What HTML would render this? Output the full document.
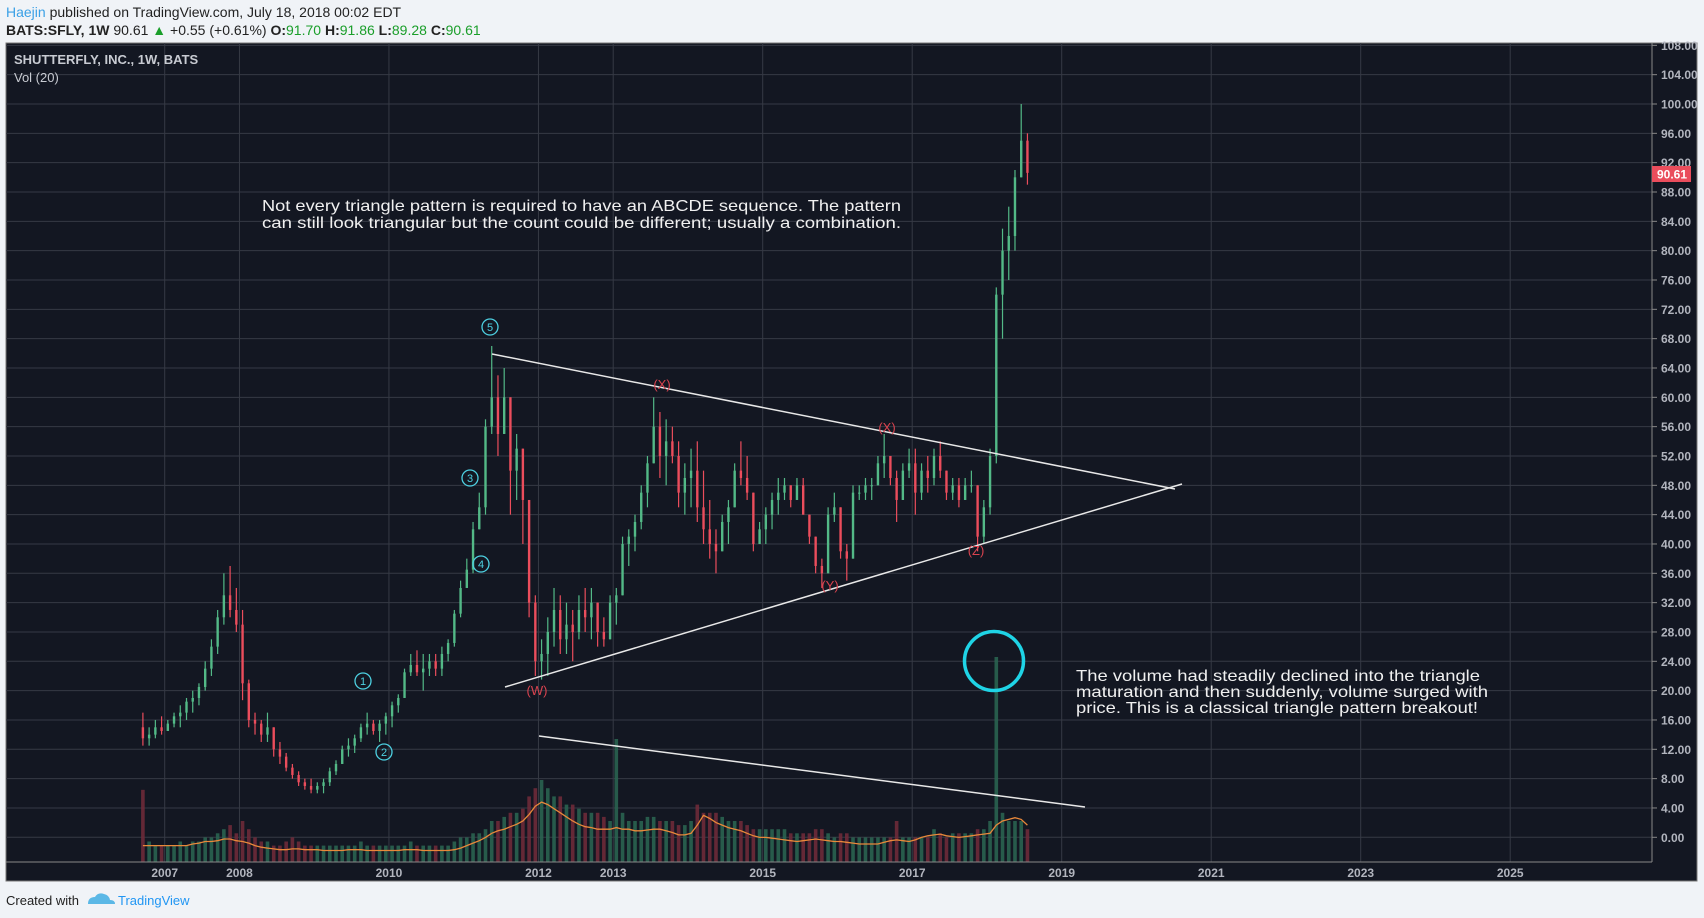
<!DOCTYPE html>
<html><head><meta charset="utf-8"><style>
body{margin:0;background:#f0f3f7;width:1704px;height:918px;overflow:hidden;font-family:"Liberation Sans",sans-serif}
svg{display:block}
</style></head><body>
<svg id="chart" width="1704" height="918" xmlns="http://www.w3.org/2000/svg">
<rect x="0" y="0" width="1704" height="918" fill="#f0f3f7"/>
<text x="6" y="17" font-size="14" fill="#222"><tspan fill="#3aa0e6">Haejin</tspan> published on TradingView.com, July 18, 2018 00:02 EDT</text>
<text x="6" y="35" font-size="14" fill="#222"><tspan font-weight="bold">BATS:SFLY, 1W</tspan> 90.61 <tspan fill="#1a9e2a">▲</tspan> +0.55 (+0.61%) <tspan font-weight="bold">O:</tspan><tspan fill="#1a9e2a">91.70</tspan> <tspan font-weight="bold">H:</tspan><tspan fill="#1a9e2a">91.86</tspan> <tspan font-weight="bold">L:</tspan><tspan fill="#1a9e2a">89.28</tspan> <tspan font-weight="bold">C:</tspan><tspan fill="#1a9e2a">90.61</tspan></text>
<rect x="6" y="43" width="1691" height="838" fill="#131722" stroke="#777" stroke-width="1"/>
<g id="grid"></g>
<g id="vol"></g>
<polyline id="ma" fill="none" stroke="#e8883a" stroke-width="1.3"/>
<g id="candles"></g>
<line x1="1652" y1="43" x2="1652" y2="862" stroke="#888"/>
<line x1="6" y1="862" x2="1652" y2="862" stroke="#888"/>
<g id="yticks"></g>
<g id="xticks"></g>
<text x="14" y="64" font-size="13" font-weight="bold" fill="#c8cbd2">SHUTTERFLY, INC., 1W, BATS</text>
<text x="14" y="82" font-size="13" fill="#c8cbd2">Vol (20)</text>
<line x1="492" y1="354" x2="1175" y2="489" stroke="#e8e8e8" stroke-width="1.5"/>
<line x1="505" y1="687" x2="1182" y2="484" stroke="#e8e8e8" stroke-width="1.5"/>
<line x1="539" y1="736" x2="1085" y2="807" stroke="#e8e8e8" stroke-width="1.5"/>
<circle cx="994" cy="661" r="29.5" fill="none" stroke="#1fd4e6" stroke-width="3.5"/>
<g font-size="11" fill="#4dd0e1" text-anchor="middle" stroke-width="1.3">
<circle cx="363" cy="681" r="8" fill="none" stroke="#4dd0e1"/><text x="363" y="685">1</text>
<circle cx="384" cy="752" r="8" fill="none" stroke="#4dd0e1"/><text x="384" y="756">2</text>
<circle cx="470" cy="478" r="8" fill="none" stroke="#4dd0e1"/><text x="470" y="482">3</text>
<circle cx="481" cy="564" r="8" fill="none" stroke="#4dd0e1"/><text x="481" y="568">4</text>
<circle cx="490" cy="327" r="8" fill="none" stroke="#4dd0e1"/><text x="490" y="331">5</text>
</g>
<g font-size="13" fill="#d9434f" text-anchor="middle">
<text x="537" y="695">(W)</text>
<text x="662" y="389">(X)</text>
<text x="887" y="432">(X)</text>
<text x="830" y="590">(Y)</text>
<text x="976" y="555">(Z)</text>
</g>
<g font-size="16" fill="#f0f0f0">
<text x="262" y="211" textLength="639" lengthAdjust="spacingAndGlyphs">Not every triangle pattern is required to have an ABCDE sequence. The pattern</text>
<text x="262" y="228" textLength="639" lengthAdjust="spacingAndGlyphs">can still look triangular but the count could be different; usually a combination.</text>
</g>
<g font-size="16" fill="#f0f0f0">
<text x="1076" y="681" textLength="404" lengthAdjust="spacingAndGlyphs">The volume had steadily declined into the triangle</text>
<text x="1076" y="697" textLength="412" lengthAdjust="spacingAndGlyphs">maturation and then suddenly, volume surged with</text>
<text x="1076" y="713" textLength="402" lengthAdjust="spacingAndGlyphs">price. This is a classical triangle pattern breakout!</text>
</g>
<rect x="1652" y="166" width="39" height="16" fill="#ea4d5c"/>
<text x="1657" y="178.5" font-size="12" font-weight="bold" fill="#fff">90.61</text>
<text x="6" y="905" font-size="13" fill="#222">Created with</text>
<g>
<path d="M88 904 q0-7 7-7 q3-5 9-3 q5 1 6 6 q5 0 5 4 z" fill="#5bb8e6"/>
</g>
<text x="118" y="905" font-size="13" fill="#2196f3">TradingView</text>
</svg>
<script>
const opens=[15,13.5,14,15,14.5,15.5,16.5,17,18.5,19,20.5,23,26,30,33,31,29,21,16,15.5,14,15,12,11,9.5,8.5,7.5,7,6.5,7,7.5,9,10,12,12.5,13.5,15,15.5,14.5,15.5,16.5,18,19,22.5,23.5,22.5,23,24,23,25,26.5,30.5,34,36.5,42,45,56,60,55,60,50,53,46,32,24,25,28,31,27,29,28,31,30,32,28,27,32,33,40,41,43,47,51,56,52,54,52,47,49,50,45,42,40,39,43,45,50,49,47,40,42,44,46,47,48,46,48,44,41,37,36,44,45,39,38,47,47,48,48,51,52,49,46,50,51,47,50,49,52,50,47,48,46,48,48,41,45,52,74,80,82,90,95];
const highs=[17,15,16,16.5,16,17,18,19,20,21,24,27,31,36,37,34,31,21.5,17,16,17,15,13,11.5,10,9,8,8,7.5,8,9.5,10.5,12.5,13.5,14,15.5,17,16,16,17,18.5,19.5,23,25,25.5,25,25,25,26,27,31,35,38,43,47,57,67,63,64,60,55,53,46,33,27,30,34,33,32,31,33,34,34,32,30,33,34,41,42,44,48,52,60,58,57,56,54,51,53,54,50,46,42,44,46,51,54,52,47,43,45,47,49,49,48,49,49,44,41,38,45,47,45,40,48,48,49,49,52,55,52,50,51,53,53,51,52,53,54,50,49,49,49,50,48,46,53,75,83,86,91,100,96];
const lows=[12.5,12.5,13.5,14,14.5,15,15,16,17,18,20,22,25,29,30,28,18.7,15,14,13,13,11,10,9,8,7,6.5,6,6,6,7,8.5,10,11,11.5,13,14,14,13,14,15,17,19,22,22,20,22,22,22,24,26,30,34,36,42,44,55,52,55,44,46,40,30,22,21.5,22,26,25,25,24,27,28,27,26,26,27,29,33,37,39,42,45,51,49,48,51,45,44,45,43,40,38,36,39,40,45,48,46,39,40,40,42,44,46,45,46,44,40,36,34,36,43,38,35,38,46,46,46,48,49,48,43,46,49,44,46,47,48,49,46,46,45,46,47,39,40,44,51,68,76,80,90,89];
const closes=[13.5,14,15,14.5,15.5,16.5,17,18.5,19,20.5,23,26,30,33,31,29,21,16,15.5,14,15,12,11,9.5,8.5,7.5,7,6.5,7,7.5,9,10,12,12.5,13.5,15,15.5,14.5,15.5,16.5,18,19,22.5,23.5,22.5,23,24,23,25,26.5,30.5,34,36.5,42,45,56,60,55,60,50,53,46,32,24,25,28,31,27,29,28,31,30,32,28,27,32,33,40,41,43,47,51,56,52,54,52,47,49,50,45,42,40,39,43,45,50,49,47,40,42,44,46,47,48,46,48,44,41,37,36,44,45,39,38,47,47,48,48,51,52,49,46,50,51,47,50,49,52,50,47,48,46,48,48,41,45,52,74,80,82,90,95,90.61];
const volumes=[8.8,2.5,2,2,2,2,2.5,2,2.5,2.5,3,3,3.5,4,4.5,3.5,5,4,3,2.5,2.5,2,2,2.5,3,2.5,2,2,2,2,2,2,2,2,2,2.5,2,2,2,2,2,2,2,2.5,2,2,2,2,2,2,2.5,3,3,3.5,3.5,4,5,5,5.5,6,6,6.5,8,9,10,9,8,8,7,7,6.5,6,6,6,5.5,5,15,6,5,5,5,5.5,5.5,5,5,5,4.5,4.5,5,7,6,6,6,5.5,5,5,5,4.5,4,4,4,4,4,4,3.5,3.5,3.5,3.5,4,4,3.5,3,3.5,3.5,3,3,3,3,3,3,3,5,3,3,3,3,3,4,3.5,3,3.5,3.5,3.5,3.5,4,4,5,25,6,5,5,5,4];
const volMA=[2,2,2,2,2,2,2,2,2.2,2.3,2.5,2.5,2.6,2.8,2.8,2.6,2.5,2.3,2,1.8,1.7,1.6,1.5,1.5,1.6,1.6,1.5,1.5,1.5,1.4,1.4,1.4,1.4,1.5,1.5,1.5,1.4,1.4,1.4,1.4,1.4,1.4,1.5,1.5,1.5,1.4,1.4,1.4,1.4,1.4,1.5,1.7,2,2.3,2.6,3,3.5,3.8,4,4.3,4.6,5,5.8,6.8,7.3,7,6.5,6,5.5,5,4.6,4.3,4.2,4,4,4,4.2,4,4,3.8,3.8,3.9,4,4,3.8,3.6,3.3,3.3,3.5,4.5,5.7,5.3,4.8,4.5,4.2,4,3.8,3.5,3.2,3,3,2.9,2.8,2.7,2.6,2.5,2.6,2.7,2.8,2.7,2.6,2.5,2.5,2.4,2.3,2.2,2.2,2.2,2.2,2.4,2.6,2.7,2.6,2.5,2.7,3,3.2,3.3,3.4,3.2,3.1,3,3.1,3.2,3.3,3.4,3.5,4.5,5,5.2,5.4,5.2,4.5];
const priceTicks=[0,4,8,12,16,20,24,28,32,36,40,44,48,52,56,60,64,68,72,76,80,84,88,92,96,100,104,108];
const yearTicks=[2007,2008,2010,2012,2013,2015,2017,2019,2021,2023,2025];
const firstMonth=-4;
const NS='http://www.w3.org/2000/svg';
function yP(p){return 837.3-p*7.333;}
function xYear(yr){return 164.7+(yr-2007)*74.75;}
function xMonth(m){return xYear(2007+(m+0.5)/12);}
function yV(v){return 862-v*8.2;}
function mk(tag,attrs,parent){const e=document.createElementNS(NS,tag);for(const k in attrs)e.setAttribute(k,attrs[k]);parent.appendChild(e);return e;}
const grid=document.getElementById('grid'),yt=document.getElementById('yticks'),xt=document.getElementById('xticks');
priceTicks.forEach(p=>{const y=yP(p);
 const l=mk('line',{x1:6,x2:1652,y1:y,y2:y,stroke:'#363a45','stroke-width':1},grid);
 
 
 const tk=mk('line',{x1:1652,x2:1657,y1:y,y2:y,stroke:'#888'},yt);
 
 
 const t=mk('text',{x:1661,y:y+4.5,'font-size':12,'font-weight':'bold',fill:'#b2b5be'},yt);
 t.textContent=p.toFixed(2);
 
 
});
yearTicks.forEach(yr=>{const x=xYear(yr);
 const l=mk('line',{x1:x,x2:x,y1:43,y2:862,stroke:'#363a45','stroke-width':1},grid);
 
 
 const t=mk('text',{x:x,y:877,'font-size':12,'font-weight':'bold',fill:'#b2b5be','text-anchor':'middle'},xt);
 t.textContent=yr;
 
 
});
const cg=document.getElementById('candles'),vg=document.getElementById('vol');
const maPts=[];
closes.forEach((c,i)=>{const m=firstMonth+i,x=xMonth(m),o=opens[i],up=c>=o;
 const col=up?'#53b987':'#eb4d5c';
 const w=mk('line',{x1:x,x2:x,y1:yP(highs[i]),y2:yP(lows[i]),stroke:col,'stroke-width':1.2},cg);
 
 
 const top=yP(Math.max(o,c)),bot=yP(Math.min(o,c));
 const b=mk('rect',{x:x-1.2,y:top,width:2.4,height:Math.max(1,bot-top),fill:col},cg);
 
 
 const vb=mk('rect',{x:x-1.8,y:yV(volumes[i]),width:3.6,height:volumes[i]*8.2,fill:up?'#2a6350':'#6e2a38','fill-opacity':0.9},vg);
 
 
 maPts.push(x.toFixed(1)+','+yV(volMA[i]).toFixed(1));
});
document.getElementById('ma').setAttribute('points',maPts.join(' '));
</script>
</body></html>
